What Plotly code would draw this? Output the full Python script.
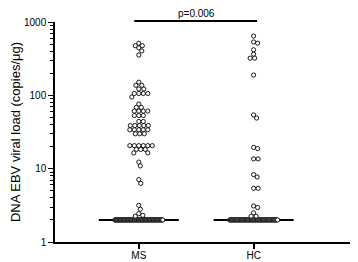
import numpy as np
import plotly.graph_objects as go

# ---------------- data ----------------
groups = ["MS", "HC"]
ms_detected = [514, 475, 475, 443, 403, 354,
               151, 137, 137, 122, 122, 106, 106, 106, 106, 95,
               76, 68.5, 68.5, 61, 61, 61, 61, 53, 53, 53, 44, 44,
               38.7, 38.7, 38.7, 38.7, 38.7, 33.9, 33.9, 33.9, 33.9, 33.9,
               29.9, 29.9, 29.9,
               20.6, 20.6, 20.6, 20.6, 20.6, 20.6, 18.3, 18.3, 18.3, 16.4, 16.4,
               12.3, 10.9, 7.1, 6.3, 3.16, 2.8, 2.43, 2.31, 2.25]
ms_at_floor = 62
hc_detected = [644, 534, 514, 418, 364, 321, 321, 189,
               54, 49, 19.5, 18.8, 13.6, 13.6, 8.3, 7.7,
               5.4, 5.4, 3.1, 2.95, 2.5, 2.25, 2.25]
hc_at_floor = 58
floor_value = 2
y_tick_vals = [1, 10, 100, 1000]
y_tick_text = ["1", "10", "100", "1000"]
p_text = "p=0.006"

# ---------------- layout constants ----------------
W, H = 358, 262
ML, MR, MT, MB = 47, 1, 14, 28
XR = [0.27, 2.97]
YR = [0, 3]
px_per_x = (W - ML - MR) / (XR[1] - XR[0])
px_per_dec = (H - MT - MB) / (YR[1] - YR[0])

D = 4.1          # collision distance in px
BAND_HALF = 24   # half width of floor band, px
MED_HALF = 40    # half width of median line, px


def swarm(vals):
    order = sorted(vals, reverse=True)
    placed = []
    out_x, out_y = [], []
    for v in order:
        y = -np.log10(v) * px_per_dec
        k = 0
        while True:
            step = ((k + 1) // 2) * 0.5 * (1 if k % 2 == 1 else -1) if k else 0.0
            ok = all((step - px) ** 2 + (y - py) ** 2 >= D * D for px, py in placed)
            if ok:
                break
            k += 1
        placed.append((step, y))
        out_x.append(step / px_per_x)
        out_y.append(v)
    return out_x, out_y


fig = go.Figure()

for i, (det, nfloor) in enumerate([(ms_detected, ms_at_floor), (hc_detected, hc_at_floor)]):
    center = i + 1
    allv = list(det) + [floor_value] * nfloor
    med = float(np.median(allv))
    hw = MED_HALF / px_per_x
    fig.add_trace(go.Scatter(x=[center - hw, center + hw], y=[med, med], mode="lines",
                             line=dict(color="black", width=2), showlegend=False,
                             hoverinfo="skip"))
    bx = list(np.linspace(-BAND_HALF, BAND_HALF, nfloor) / px_per_x + center)
    by = [floor_value] * nfloor
    sx, sy = swarm(det)
    fig.add_trace(go.Scatter(x=bx + [center + s for s in sx], y=by + sy, mode="markers",
                             marker=dict(symbol="circle", size=4.2, color="white",
                                         line=dict(color="black", width=0.9)),
                             showlegend=False, cliponaxis=False))

fig.update_layout(
    width=W, height=H, margin=dict(l=ML, r=MR, t=MT, b=MB),
    paper_bgcolor="white", plot_bgcolor="white",
    font=dict(family="Liberation Sans, Arial, sans-serif", color="black", size=10),
    xaxis=dict(range=XR, tickvals=[1, 2], ticktext=groups, showline=True,
               linecolor="black", linewidth=1.5, ticks="outside", ticklen=5,
               tickwidth=1.5, tickcolor="black", showgrid=False, zeroline=False,
               tickfont=dict(size=10), automargin=False, ticklabelstandoff=-2),
    yaxis=dict(type="log", range=YR, tickvals=y_tick_vals, ticktext=y_tick_text,
               showline=True, linecolor="black", linewidth=1.5, ticks="outside",
               ticklen=5, tickwidth=1.2, tickcolor="black", showgrid=False,
               zeroline=False, tickfont=dict(size=10), automargin=False,
               minor=dict(ticks="outside", ticklen=3, tickwidth=1, tickcolor="black",
                          dtick="D1", showgrid=False),
               title=dict(text="DNA EBV viral load (copies/μg)", font=dict(size=13),
                          standoff=17)),
)

fig.add_shape(type="line", xref="x", yref="paper", x0=0.96, x1=2.03,
              y0=1 + 1 / (H - MT - MB), y1=1 + 1 / (H - MT - MB),
              line=dict(color="black", width=2))
fig.add_annotation(text=p_text, xref="x", yref="paper", x=1.5,
                   y=1 + 8 / (H - MT - MB), showarrow=False,
                   font=dict(size=10), yanchor="middle")

fig.write_html("out.html")
